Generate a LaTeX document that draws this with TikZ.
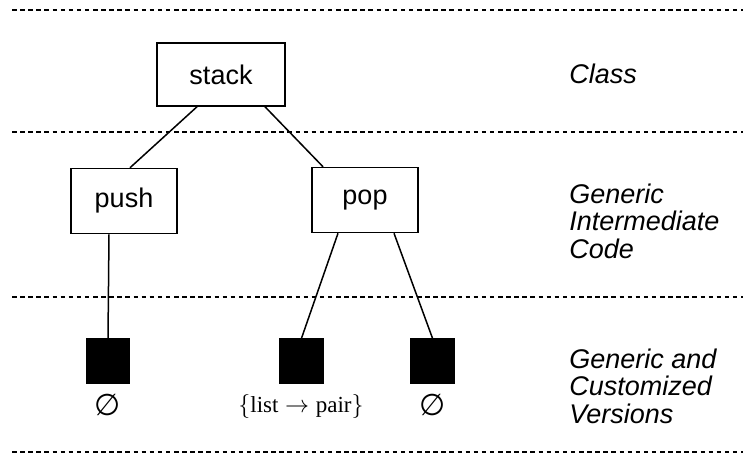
\documentclass[tikz,border=0pt]{standalone}
\usepackage{amsmath,amssymb}
\usepackage{fontspec}
\setmainfont{Liberation Sans}
\newfontfamily\timesfont{Liberation Serif}
\newfontfamily\symfont{DejaVu Sans}

\begin{document}
\begin{tikzpicture}[x=0.5pt, y=-0.5pt, line width=0.75pt,
  font=\fontsize{13.5}{13.75}\selectfont,
  level/.style={line width=0.9pt, dash pattern=on 2.25pt off 1.8pt},
  proc/.style={draw, rectangle, inner sep=0pt, minimum width=53pt, minimum height=32.5pt},
  version/.style={draw, fill=black, rectangle, inner sep=0pt, minimum width=21.5pt, minimum height=22pt},
  none/.style={font=\symfont\fontsize{15}{15}\selectfont},
  tier/.style={anchor=base west, align=left, font=\fontsize{13.5}{13.6}\selectfont\itshape}]
  \useasboundingbox (0,0) rectangle (743,456);

  % levels
  \draw[level] (12,10) -- (743,10);
  \draw[level] (12,132) -- (743,132);
  \draw[level] (12,297) -- (743,297);
  \draw[level] (12,452) -- (743,452);

  \node[draw, rectangle, inner sep=0pt, minimum width=64pt, minimum height=31.5pt] (stack) at (221,74.5) {stack};
  \node[proc] (push) at (124,201) {push};
  \node[proc] (pop) at (365,200) {pop};

  \node[version] (v1) at (108,361) {};
  \node[version] (v2) at (301.5,361) {};
  \node[version] (v3) at (432.5,361) {};

  \node[none] (e1) at (108,405) {∅};
  \node[anchor=base] (e2) at (301,412) {\timesfont\fontsize{11.5}{11.5}\selectfont$\{\text{list}\rightarrow\text{pair}\}$};
  \node[none] (e3) at (432.5,405) {∅};

  \draw ([xshift=-12pt]stack.south) -- ([xshift=3pt]push.north);
  \draw ([xshift=22pt]stack.south) -- ([xshift=-21pt]pop.north);
  \draw ([xshift=-7.5pt]push.south) -- (v1.north);
  \draw ([xshift=-13.5pt]pop.south) -- (v2.north);
  \draw ([xshift=14.5pt]pop.south) -- (v3.north);

  \node[tier] (cls) at (562,83) {Class};
  \node[tier] (gic) at (562,258) {Generic\\Intermediate\\Code};
  \node[tier] (gcv) at (562,423) {Generic and\\Customized\\Versions};
\end{tikzpicture}
\end{document}
